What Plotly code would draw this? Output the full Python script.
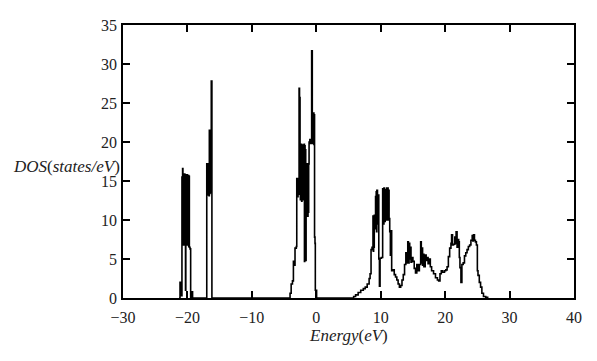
import plotly.graph_objects as go

# Peak 1 (around -20 eV)
e_p1 = [-21.3, -21.15, -21.0, -20.85, -20.8, -20.75, -20.7, -20.65, -20.6, -20.55, -20.5,
        -20.45, -20.4, -20.35, -20.3, -20.25, -20.2, -20.15, -20.1, -20.05, -20.0, -19.95,
        -19.9, -19.85, -19.8, -19.75, -19.7, -19.6, -19.5, -19.4, -19.2]
d_p1 = [0, 2.0, 0.3, 15.5, 7.0, 16.6, 7.0, 15.8, 6.8, 15.6, 7.5,
        15.9, 8.0, 15.7, 1.0, 15.8, 7.0, 15.6, 7.2, 15.8, 6.8, 15.5,
        7.0, 15.7, 6.6, 15.6, 6.5, 6.3, 0, 0.8, 0]

# Peak 2 (around -16.5 eV)
e_p2 = [-17.2, -17.0, -16.95, -16.9, -16.85, -16.8, -16.75, -16.7, -16.65, -16.6,
        -16.55, -16.5, -16.45, -16.4, -16.35, -16.3, -16.2]
d_p2 = [0, 17.2, 13.3, 17.0, 13.5, 17.2, 13.2, 16.8, 13.1, 21.5,
        13.4, 21.3, 13.5, 21.5, 14.0, 27.8, 0]

# Peak 3 (valence band top, around -2 eV)
e_p3 = [-4.2, -4.07, -3.9, -3.7, -3.55, -3.45, -3.3, -3.1, -3.03, -2.98, -2.93, -2.88,
        -2.83, -2.78, -2.72, -2.67, -2.6, -2.52, -2.47, -2.42, -2.37, -2.32, -2.27,
        -2.22, -2.17, -2.12, -2.07, -2.02, -1.97, -1.89, -1.84, -1.79, -1.74, -1.69,
        -1.64, -1.58, -1.53, -1.48, -1.43, -1.38, -1.33, -1.28, -1.23, -1.18, -1.12,
        -1.0, -0.9, -0.81, -0.72, -0.62, -0.57, -0.52, -0.47, -0.42, -0.37, -0.32,
        -0.27, -0.2, -0.15, 0.05]
d_p3 = [0, 0.6, 1.8, 2.2, 4.7, 4.2, 6.4, 6.6, 15.3, 13.1, 15.2, 13.0,
        15.3, 13.3, 15.0, 26.9, 25.7, 19.7, 12.6, 19.5, 12.8, 19.7, 12.4,
        19.3, 13.0, 19.6, 12.6, 19.5, 13.5, 19.7, 4.7, 19.5, 5.0, 19.0,
        4.8, 17.2, 10.5, 17.2, 10.8, 17.0, 10.5, 17.2, 11.0, 17.2, 20.0,
        20.3, 19.8, 20.2, 31.7, 23.7, 19.8, 23.6, 20.0, 23.7, 19.7, 23.5,
        7.8, 7.0, 1.0, 0]

# Conduction band (6 to 27 eV)
e_cb = [5.6, 5.8, 6.1, 6.5, 6.9, 7.3, 7.6, 7.9, 8.2, 8.35, 8.5, 8.65, 8.8, 8.85, 8.9,
        8.95, 9.0, 9.1, 9.2, 9.25, 9.3, 9.35, 9.4, 9.5, 9.6, 9.7, 9.8, 9.9, 10.1, 10.3,
        10.35, 10.4, 10.45, 10.5, 10.55, 10.6, 10.65, 10.7, 10.8, 10.9, 10.95, 11.0,
        11.05, 11.1, 11.15, 11.2, 11.3, 11.4, 11.5, 11.6, 11.7, 11.9, 12.1, 12.3, 12.5,
        12.7, 12.9, 13.1, 13.3, 13.5, 13.7, 13.9, 14.05, 14.2, 14.3, 14.4, 14.5, 14.6,
        14.7, 14.8, 15.0, 15.2, 15.4, 15.6, 15.8, 16.0, 16.2, 16.3, 16.4, 16.5, 16.6,
        16.7, 16.9, 17.05, 17.2, 17.35, 17.5, 17.7, 17.9, 18.2, 18.5, 18.8, 19.0, 19.2,
        19.4, 19.6, 19.9, 20.1, 20.3, 20.5, 20.7, 20.9, 21.0, 21.15, 21.3, 21.5, 21.6,
        21.7, 21.85, 21.95, 22.1, 22.2, 22.3, 22.45, 22.6, 22.8, 23.0, 23.2, 23.4, 23.6,
        23.8, 24.0, 24.2, 24.3, 24.4, 24.55, 24.7, 24.85, 25.0, 25.1, 25.3, 25.5, 25.7,
        25.95, 26.3, 26.6]
d_cb = [0, 0.2, 0.4, 0.7, 1.0, 1.2, 1.4, 1.8, 2.5, 3.1, 6.2, 6.5, 10.5, 6.0, 10.3,
        6.5, 10.6, 8.9, 13.0, 9.0, 13.6, 8.5, 13.8, 9.5, 13.2, 5.0, 1.5, 5.1, 5.2, 14.0,
        10.0, 13.8, 9.5, 14.1, 10.2, 13.5, 9.8, 13.9, 10.0, 14.1, 10.0, 13.7,
        10.3, 14.1, 10.0, 13.8, 10.2, 8.5, 5.5, 8.6, 3.5, 3.6, 3.0, 2.7, 2.3,
        1.8, 1.4, 1.6, 2.3, 3.0, 4.3, 5.8, 4.5, 7.2, 4.5, 7.0, 5.0, 6.5,
        4.6, 5.2, 4.7, 3.8, 3.2, 4.3, 3.5, 4.3, 7.2, 4.5, 6.4, 4.2, 5.6,
        4.0, 5.5, 4.8, 5.2, 4.4, 5.0, 4.0, 3.5, 3.1, 2.6, 2.3, 2.2, 3.1,
        3.5, 3.3, 3.5, 3.6, 4.0, 5.3, 6.4, 7.0, 8.1, 6.8, 6.9, 7.8, 7.0,
        8.5, 6.5, 7.5, 7.2, 5.2, 3.9, 2.0, 4.3, 4.5, 5.4, 5.8, 6.2, 6.6,
        6.8, 7.4, 8.0, 7.3, 8.1, 7.4, 7.2, 6.8, 3.5, 2.9, 2.0, 1.4, 0.6,
        0.2, 0.1, 0]

x_ticks = [-30, -20, -10, 0, 10, 20, 30, 40]
y_ticks = [0, 5, 10, 15, 20, 25, 30, 35]

energy = e_p1 + e_p2 + e_p3 + e_cb
dos = d_p1 + d_p2 + d_p3 + d_cb

fig = go.Figure()
fig.add_trace(go.Scatter(x=energy, y=dos, mode="lines",
                         line=dict(color="black", width=1.6, shape="hv"),
                         showlegend=False))

font_tick = dict(family="Liberation Serif", size=16, color="#222")
axis_common = dict(showline=True, linecolor="black", linewidth=1.5, mirror="allticks",
                   ticks="inside", ticklen=7, tickwidth=1.5, tickcolor="black",
                   showgrid=False, zeroline=False, tickfont=font_tick)

fig.update_layout(
    width=597, height=361,
    margin=dict(l=115, r=31, t=9, b=71),
    paper_bgcolor="white", plot_bgcolor="white",
    xaxis=dict(range=[-30, 40], tickvals=x_ticks, ticklabelstandoff=4, **axis_common),
    yaxis=dict(range=[0, 35], tickvals=y_ticks, ticklabelstandoff=1, **axis_common),
    annotations=[
        dict(text="<i>DOS</i>(<i>states/eV</i>)", xref="paper", yref="paper",
             x=-0.002, y=0.48, xanchor="right", yanchor="middle", showarrow=False,
             font=dict(family="Liberation Serif", size=17, color="#222")),
        dict(text="<i>Energy</i>(<i>eV</i>)", xref="paper", yref="paper",
             x=0.5, y=-0.139, xanchor="center", yanchor="middle", showarrow=False,
             font=dict(family="Liberation Serif", size=17, color="#222")),
    ],
)

fig.write_html("out.html")
